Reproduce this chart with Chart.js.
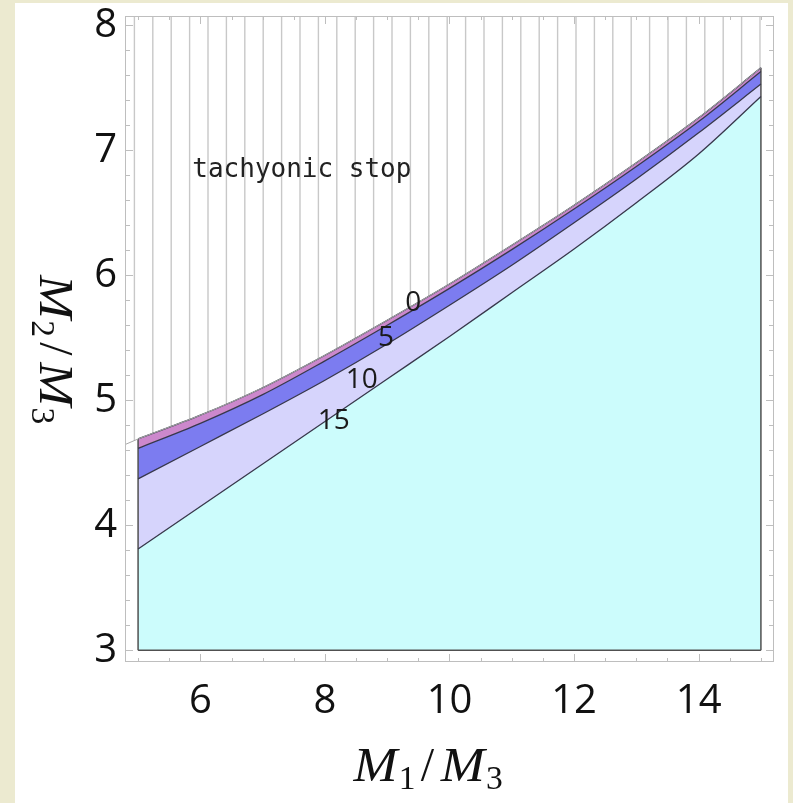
<!DOCTYPE html>
<html><head><meta charset="utf-8">
<script src="https://cdn.jsdelivr.net/npm/chart.js@4/dist/chart.umd.min.js"></script>
<style>html,body{margin:0;padding:0;background:#ecead0;overflow:hidden}</style>
</head><body>
<canvas id="c" width="793" height="803"></canvas>
<script>
// ---- data ----
const xGrid   = [5, 6, 7, 8, 9, 10, 11, 12, 13, 14, 15];
const level0  = [4.69, 4.88, 5.10, 5.36, 5.64, 5.93, 6.24, 6.56, 6.90, 7.26, 7.66];
const level5  = [4.615, 4.815, 5.045, 5.315, 5.60, 5.895, 6.205, 6.53, 6.87, 7.23, 7.63];
const level10 = [4.37, 4.63, 4.89, 5.16, 5.45, 5.76, 6.08, 6.42, 6.77, 7.14, 7.53];
const level15 = [3.81, 4.15, 4.49, 4.83, 5.17, 5.51, 5.86, 6.21, 6.58, 6.97, 7.43];
const hatchLeftX = 4.79, hatchLeftY = 4.645;
const xTickLabels = [6, 8, 10, 12, 14];
const yTickLabels = [3, 4, 5, 6, 7, 8];
const contourLabels = ['0', '5', '10', '15'];
const contourLabelX = [9.42, 8.98, 8.59, 8.14];
const contourLabelY = [5.79, 5.51, 5.18, 4.85];
const regionLabel = 'tachyonic stop';
const regionLabelX = 5.87, regionLabelY = 6.79;
const xTitleParts = [['M', 0], ['1', 1], ['/', 0], ['M', 0], ['3', 1]];
const yTitleParts = [['M', 0], ['2', 1], ['/', 0], ['M', 0], ['3', 1]];
const floorY = 3;

const pts = arr => arr.map((y, i) => ({x: xGrid[i], y}));
const last = a => a[a.length - 1];

const canvas = document.getElementById('c');
const ctx0 = canvas.getContext('2d');
function makeHatch() {
  const t = document.createElement('canvas');
  t.width = 92; t.height = 8;
  const g = t.getContext('2d');
  g.strokeStyle = 'rgb(200,200,200)';
  g.lineWidth = 1.4;
  for (let k = 0; k < 5; k++) {
    const px = 5.6 + 18.4 * k;
    g.beginPath(); g.moveTo(px, 0); g.lineTo(px, 8); g.stroke();
  }
  return ctx0.createPattern(t, 'repeat');
}

// draw a TeX-like fraction label M_a/M_b with Computer-Modern-like spacing
function drawMath(c, parts, S) {
  const items = parts.map(([t, sub]) => {
    const italic = t === 'M';
    const size = sub ? 0.7 * S : S;
    const adv = (t === 'M' ? 0.97 : (t === '/' ? 0.5 : 0.5 * 0.7)) * S;
    return {t, sub, italic, size, adv};
  });
  const total = items.reduce((a, b) => a + b.adv, 0);
  let x = -total / 2;
  c.textAlign = 'left';
  c.textBaseline = 'alphabetic';
  items.forEach(it => {
    c.font = (it.italic ? 'italic ' : '') + it.size.toFixed(1) + 'px "Liberation Serif"';
    const w = c.measureText(it.t).width;
    const dy = it.sub ? 0.17 * S : 0;
    if (it.t === 'M') {
      const k = Math.min(it.adv / w, 1.1);
      c.save(); c.translate(x + (it.adv - w * k) / 2, 0); c.scale(k, 1); c.fillText(it.t, 0, 0); c.restore();
    } else {
      c.fillText(it.t, x + (it.adv - w) / 2, dy);
    }
    x += it.adv;
  });
}

const lineCol = 'rgb(55,55,75)';
const edgeCol = 'rgb(80,80,80)';

const bgPlugin = {
  id: 'bg',
  beforeDraw(chart) {
    const c = chart.ctx;
    c.save();
    c.fillStyle = '#ecead0';
    c.fillRect(0, 0, chart.width, chart.height);
    c.fillStyle = '#ffffff';
    c.fillRect(15, 3, 773, 800);
    c.restore();
  }
};

const framePlugin = {
  id: 'frame',
  afterDraw(chart) {
    const c = chart.ctx, xs = chart.scales.x, ys = chart.scales.y;
    const {left, right, top, bottom} = chart.chartArea;
    c.save();
    c.strokeStyle = 'rgb(190,190,190)';
    c.lineWidth = 1;
    c.strokeRect(left + 0.5, top + 0.5, right - left - 1, bottom - top - 1);
    c.beginPath();
    for (let i = 0; i <= 20; i++) {
      const v = xGrid[0] + i * 0.5;
      const px = Math.round(xs.getPixelForValue(v)) + 0.5;
      const len = (i % 4 === 2) ? 8 : 4;
      c.moveTo(px, bottom); c.lineTo(px, bottom - len);
      c.moveTo(px, top); c.lineTo(px, top + len);
    }
    for (let i = 0; i <= 25; i++) {
      const v = yTickLabels[0] + i * 0.2;
      const py = Math.round(ys.getPixelForValue(v)) + 0.5;
      const len = (i % 5 === 0) ? 8 : 5;
      c.moveTo(left, py); c.lineTo(left + len, py);
      c.moveTo(right, py); c.lineTo(right - len, py);
    }
    c.stroke();

    // axis titles
    c.fillStyle = '#111';
    c.save();
    c.translate(427.5, 781);
    drawMath(c, xTitleParts, 48);
    c.restore();
    c.save();
    c.translate(40, 349);
    c.rotate(Math.PI / 2);
    drawMath(c, yTitleParts, 48);
    c.restore();
    c.restore();
  }
};

const labelPlugin = {
  id: 'labels',
  afterDatasetsDraw(chart) {
    const c = chart.ctx, xs = chart.scales.x, ys = chart.scales.y;
    c.save();
    c.fillStyle = '#1a1a1a';
    c.font = '28px "Open Sans"';
    c.textAlign = 'center';
    c.textBaseline = 'middle';
    contourLabels.forEach((t, i) => {
      c.fillText(t, xs.getPixelForValue(contourLabelX[i]), ys.getPixelForValue(contourLabelY[i]) + 2);
    });
    c.font = '26px "DejaVu Sans Mono"';
    c.textAlign = 'left';
    c.textBaseline = 'alphabetic';
    c.fillStyle = '#222';
    c.fillText(regionLabel, xs.getPixelForValue(regionLabelX), ys.getPixelForValue(regionLabelY));
    c.restore();
  }
};

const curve = (data, fill, bg, extra) => Object.assign({
  data, fill, backgroundColor: bg, borderColor: lineCol, borderWidth: 1.3,
  pointRadius: 0, cubicInterpolationMode: 'monotone'
}, extra || {});

new Chart(canvas, {
  type: 'line',
  data: {
    datasets: [
      curve([{x: hatchLeftX, y: hatchLeftY}].concat(pts(level0)), 'end', makeHatch(), {borderWidth: 1, borderColor: 'rgb(170,170,170)'}),
      curve(pts(level0), '+1', 'rgb(204,136,204)'),
      curve(pts(level5), '+1', 'rgb(124,124,240)'),
      curve(pts(level10), '+1', 'rgb(214,212,252)'),
      curve(pts(level15), {value: floorY}, 'rgb(204,252,252)'),
      {data: [{x: xGrid[0], y: floorY}, {x: last(xGrid), y: floorY}], borderColor: edgeCol, borderWidth: 1.5, pointRadius: 0, fill: false},
      {data: [{x: xGrid[0], y: floorY}, {x: xGrid[0], y: level0[0]}], borderColor: edgeCol, borderWidth: 1.5, pointRadius: 0, fill: false},
      {data: [{x: last(xGrid), y: floorY}, {x: last(xGrid), y: last(level0)}], borderColor: edgeCol, borderWidth: 1.5, pointRadius: 0, fill: false}
    ]
  },
  options: {
    responsive: false,
    animation: false,
    layout: {padding: {left: 15, top: 16, right: 19, bottom: 0}},
    plugins: {
      legend: {display: false},
      tooltip: {enabled: false},
      filler: {drawTime: 'beforeDatasetsDraw'}
    },
    scales: {
      x: {
        type: 'linear', min: 4.79, max: 15.21,
        grid: {display: false, drawTicks: false},
        border: {display: false},
        afterBuildTicks: a => { a.ticks = xTickLabels.map(v => ({value: v})); },
        afterFit: s => { s.height = 141; },
        ticks: {font: {family: 'Open Sans', size: 40}, color: '#111', padding: 16, maxRotation: 0, autoSkip: false}
      },
      y: {
        type: 'linear', min: 2.905, max: 8.075,
        grid: {display: false, drawTicks: false},
        border: {display: false},
        afterBuildTicks: a => { a.ticks = yTickLabels.map(v => ({value: v})); },
        afterFit: s => { s.width = 110; },
        ticks: {font: {family: 'Open Sans', size: 40, lineHeight: 0.3}, color: '#111', padding: 8, autoSkip: false}
      }
    }
  },
  plugins: [bgPlugin, labelPlugin, framePlugin]
});
</script>
</body></html>
